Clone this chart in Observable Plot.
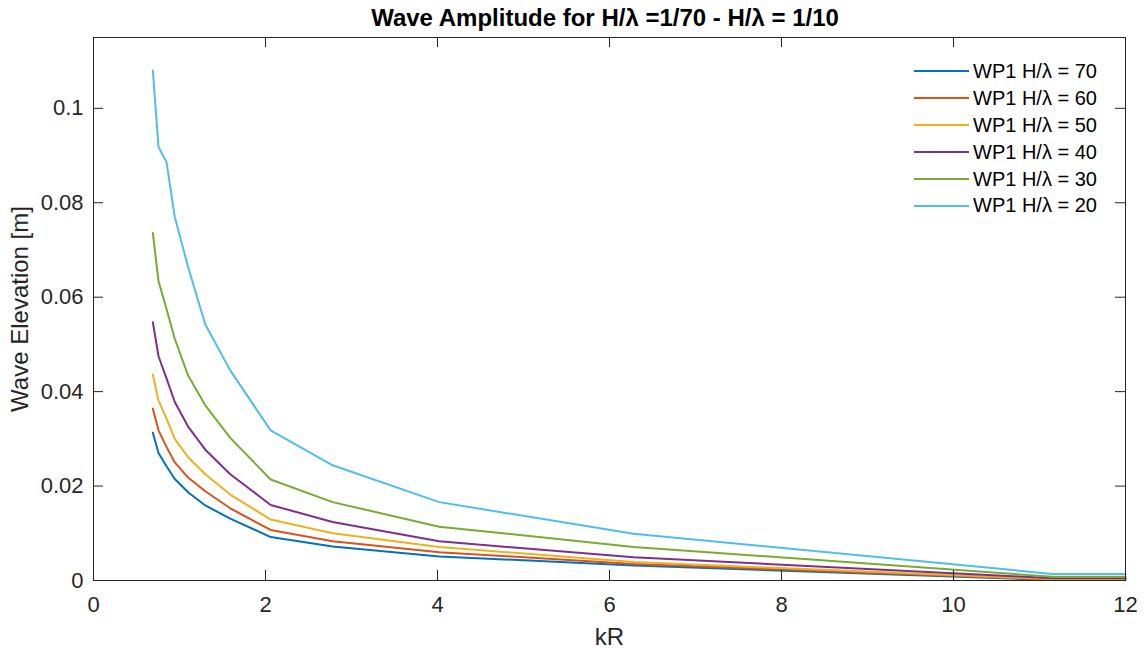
<!DOCTYPE html>
<html>
<head>
<meta charset="utf-8">
<script src="https://cdn.jsdelivr.net/npm/d3@7"></script>
<script src="https://cdn.jsdelivr.net/npm/@observablehq/plot@0.6"></script>
<style>
  html, body { margin: 0; padding: 0; background: #fff; }
  #wrap { position: relative; width: 1147px; height: 648px; font-family: "Liberation Sans", Arial, sans-serif; }
  #title { height: 30px; position: relative; }
  #title span { position: absolute; left: 89px; width: 1032px; top: 4px; text-align: center; font-weight: bold; font-size: 24px; color: #000; white-space: nowrap; }
  #legend { position: absolute; left: 914px; top: 58px; }
  .row { display: flex; align-items: center; height: 26.9px; font-size: 20px; color: #000; white-space: nowrap; }
  .row svg { margin-right: 4px; }
</style>
</head>
<body>
<div id="wrap">
  <div id="title"><span>Wave Amplitude for H/λ =1/70 - H/λ = 1/10</span></div>
  <div id="chart"></div>
  <div id="legend"></div>
</div>
<script>
// ---- data ----
const kR = [0.69, 0.756, 0.849, 0.945, 1.10, 1.30, 1.59, 2.06, 2.78, 4.02, 6.28, 11.15, 12];
const h70 = [0.0313, 0.0270, 0.0242, 0.0215, 0.0187, 0.0159, 0.0131, 0.0092, 0.0072, 0.0051, 0.0032, 0.0001, 0.0001];
const h60 = [0.0364, 0.0318, 0.0283, 0.0250, 0.0218, 0.0189, 0.0153, 0.0107, 0.0083, 0.0060, 0.0035, 0.0002, 0.0002];
const h50 = [0.0436, 0.0381, 0.0343, 0.0300, 0.0261, 0.0225, 0.0182, 0.0129, 0.0100, 0.0071, 0.0039, 0.0003, 0.0003];
const h40 = [0.0547, 0.0475, 0.0428, 0.0378, 0.0326, 0.0277, 0.0225, 0.0160, 0.0124, 0.0083, 0.0049, 0.0005, 0.0005];
const h30 = [0.0736, 0.0634, 0.0575, 0.0512, 0.0434, 0.0371, 0.0302, 0.0214, 0.0166, 0.0114, 0.0071, 0.0008, 0.0008];
const h20 = [0.1080, 0.0918, 0.0886, 0.0770, 0.0664, 0.0542, 0.0445, 0.0318, 0.0244, 0.0166, 0.0099, 0.0014, 0.0014];
const seriesNames = ["WP1 H/λ = 70", "WP1 H/λ = 60", "WP1 H/λ = 50", "WP1 H/λ = 40", "WP1 H/λ = 30", "WP1 H/λ = 20"];
const seriesValues = [h70, h60, h50, h40, h30, h20];
const colors = ["#0072BD", "#D95319", "#EDB120", "#7E2F8E", "#77AC30", "#4DBEEE"];
const xTicks = [0, 2, 4, 6, 8, 10, 12];
const yTicks = [0, 0.02, 0.04, 0.06, 0.08, 0.1];

// ---- table ----
const rows = [];
seriesNames.forEach((name, s) => {
  kR.forEach((k, i) => rows.push({series: name, kR: k, v: seriesValues[s][i]}));
});

const W = 1147, H = 618, mT = 7, mB = 68, mL = 93, mR = 22;
const frameH = H - mT - mB, frameW = W - mL - mR;
const axisColor = "#262626";

const chart = Plot.plot({
  width: W, height: H,
  marginTop: mT, marginBottom: mB, marginLeft: mL, marginRight: mR,
  style: {fontFamily: "'Liberation Sans', Arial, sans-serif", color: axisColor, background: "#fff"},
  x: {domain: [0, 12]},
  y: {domain: [0, 0.115]},
  color: {domain: seriesNames, range: colors},
  marks: [
    Plot.line(rows, {x: "kR", y: "v", z: "series", stroke: "series", strokeWidth: 2}),
    Plot.frame({stroke: axisColor, strokeWidth: 1}),
    // inner ticks (bottom, top, left, right)
    Plot.tickX(xTicks, {x: d => d, insetTop: frameH - 10, stroke: axisColor}),
    Plot.tickX(xTicks, {x: d => d, insetBottom: frameH - 10, stroke: axisColor}),
    Plot.tickY(yTicks, {y: d => d, insetRight: frameW - 10, stroke: axisColor}),
    Plot.tickY(yTicks, {y: d => d, insetLeft: frameW - 10, stroke: axisColor}),
    Plot.axisX({ticks: xTicks, tickSize: 0, tickPadding: 16, fontSize: 22, label: null, tickFormat: d3.format("~g")}),
    Plot.axisY({ticks: yTicks, tickSize: 0, tickPadding: 10, fontSize: 22, label: null, tickFormat: d3.format("~g")}),
    Plot.axisX({ticks: [], tickSize: 0, label: "kR", labelAnchor: "center", labelArrow: "none", labelOffset: 64, fontSize: 24}),
    Plot.axisY({ticks: [], tickSize: 0, label: "Wave Elevation [m]", labelAnchor: "center", labelArrow: "none", labelOffset: 83, fontSize: 24})
  ]
});
document.getElementById("chart").appendChild(chart);

// ---- legend ----
const leg = document.getElementById("legend");
seriesNames.forEach((name, i) => {
  const r = document.createElement("div");
  r.className = "row";
  r.innerHTML = `<svg width="55" height="4"><line x1="0" x2="55" y1="2" y2="2" stroke="${colors[i]}" stroke-width="2"/></svg><span>${name}</span>`;
  leg.appendChild(r);
});
</script>
</body>
</html>
